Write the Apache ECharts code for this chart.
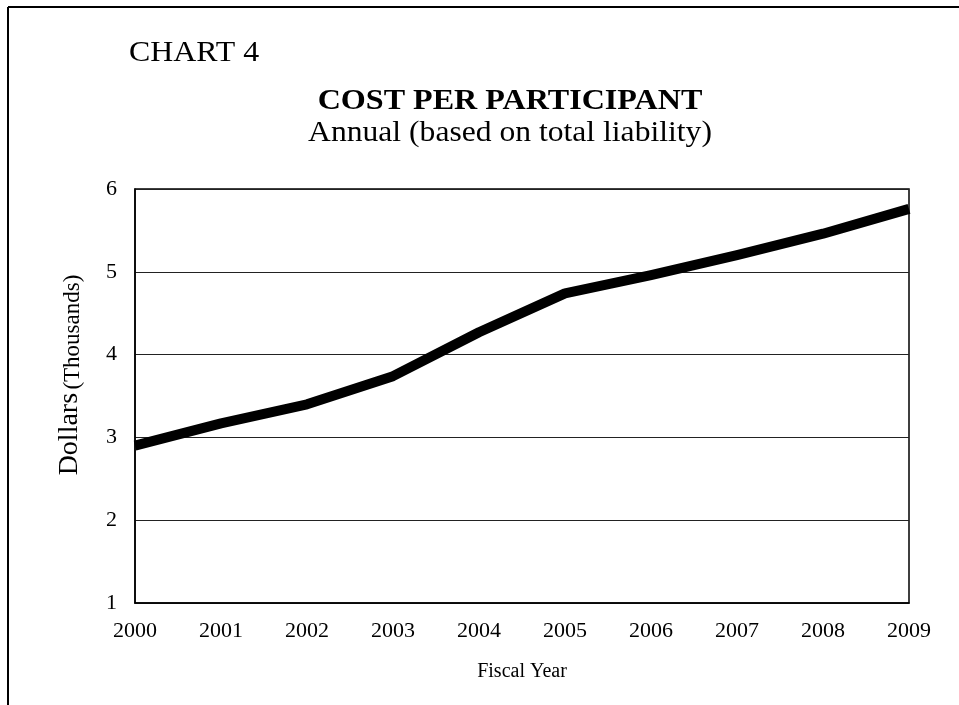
<!DOCTYPE html>
<html>
<head>
<meta charset="utf-8">
<script src="https://cdn.jsdelivr.net/npm/echarts@6/dist/echarts.min.js"></script>
<style>
  html, body { margin: 0; padding: 0; background: #fff; }
  #chart { width: 959px; height: 705px; }
</style>
</head>
<body>
<div id="chart"></div>
<script>
// fiscal years and cost per participant (thousands of dollars)
const years = ['2000', '2001', '2002', '2003', '2004', '2005', '2006', '2007', '2008', '2009'];
const costPerParticipant = [2.9, 3.17, 3.4, 3.74, 4.27, 4.74, 4.96, 5.2, 5.46, 5.76];

const serif = '"Liberation Serif", "DejaVu Serif", serif';

let chart = echarts.init(document.getElementById('chart'));
chart.setOption({
    animation: false,
    backgroundColor: '#fff',
    graphic: [
        // outer frame: top and left edges only
        {type: 'line', shape: {x1: 8, y1: 7, x2: 959, y2: 7}, style: {stroke: '#000', lineWidth: 2}},
        {type: 'line', shape: {x1: 8, y1: 7, x2: 8, y2: 705}, style: {stroke: '#000', lineWidth: 2}},
        // header texts (the source type is slightly wide, hence scaleX)
        {
            type: 'text', x: 129, y: 53, scaleX: 1.1,
            style: {text: 'CHART 4', align: 'left', verticalAlign: 'middle',
                fontFamily: serif, fontSize: 29, fill: '#000'}
        },
        {
            type: 'text', x: 510, y: 101, scaleX: 1.07,
            style: {text: 'COST PER PARTICIPANT', align: 'center', verticalAlign: 'middle',
                fontFamily: serif, fontSize: 30, fontWeight: 'bold', fill: '#000'}
        },
        {
            type: 'text', x: 510, y: 133, scaleX: 1.09,
            style: {text: 'Annual (based on total liability)', align: 'center', verticalAlign: 'middle',
                fontFamily: serif, fontSize: 29, fill: '#000'}
        },
        {
            type: 'text',
            x: 70,
            y: 375,
            rotation: Math.PI / 2,
            style: {
                text: '{a|Dollars} {b|(Thousands)}',
                align: 'center',
                verticalAlign: 'middle',
                fill: '#000',
                rich: {
                    a: {fontFamily: serif, fontSize: 28, fill: '#000', verticalAlign: 'bottom'},
                    b: {fontFamily: serif, fontSize: 23, fill: '#000', verticalAlign: 'bottom'}
                }
            }
        }
    ],
    grid: {
        left: 135,
        right: 50,
        top: 189,
        bottom: 102,
        show: true,
        borderColor: '#000',
        borderWidth: 1.5
    },
    xAxis: {
        type: 'category',
        data: years,
        boundaryGap: false,
        name: 'Fiscal Year',
        nameLocation: 'middle',
        nameGap: 59,
        nameTextStyle: {fontFamily: serif, fontSize: 20, color: '#000'},
        axisLine: {lineStyle: {color: '#000', width: 1.5}},
        axisTick: {show: false},
        axisLabel: {fontFamily: serif, fontSize: 22, color: '#000', margin: 17},
        splitLine: {show: false}
    },
    yAxis: {
        type: 'value',
        min: 1,
        max: 6,
        interval: 1,
        axisLine: {show: true, lineStyle: {color: '#000', width: 1.5}},
        axisTick: {show: false},
        axisLabel: {fontFamily: serif, fontSize: 22, color: '#000', margin: 18},
        splitLine: {lineStyle: {color: '#222', width: 1}}
    },
    series: [
        {
            name: 'Cost per participant',
            type: 'line',
            data: costPerParticipant,
            symbol: 'none',
            lineStyle: {color: '#000', width: 10, join: 'round'},
            itemStyle: {color: '#000'}
        }
    ]
});
</script>
</body>
</html>
